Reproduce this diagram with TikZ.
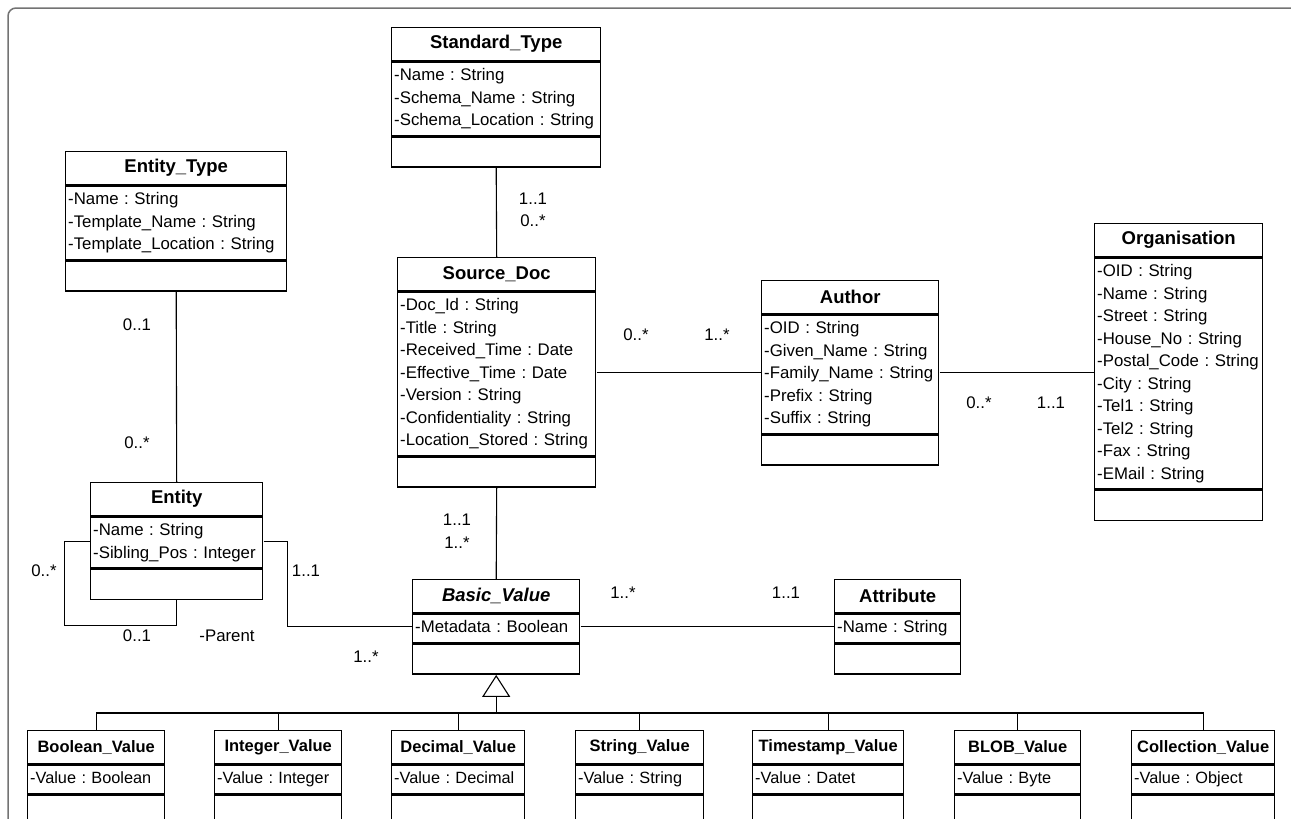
\documentclass[tikz,border=0pt]{standalone}
\usepackage{fontspec}
\setmainfont{Liberation Sans}
\usetikzlibrary{arrows.meta, fit}

\tikzset{
	cls/.style={draw, line width=1.4pt, inner sep=0pt},
	clstitle/.style={cls, minimum height=33pt, font=\fontsize{18.5}{22}\selectfont\bfseries},
	clsattr/.style={cls, align=left, inner xsep=2.5pt, font=\fontsize{16.8}{22.5}\selectfont,
		execute at begin node=\strut, execute at end node=\strut},
	clsops/.style={cls, minimum height=30pt},
	subcls/.style={clstitle/.append style={font=\fontsize{16.5}{20}\selectfont\bfseries},
		clsattr/.append style={font=\fontsize{16.3}{22.5}\selectfont}},
	assoc/.style={line width=1.1pt},
	inherit/.style={line width=1.1pt, -{Triangle[open, length=22pt, width=28pt]}},
	mult/.style={inner sep=1pt, font=\fontsize{16.8}{20}\selectfont},
	frame/.style={draw=black!55, line width=1.5pt, rounded corners=8pt}
}

% name, top left, width, title, attributes, rows
\newcommand{\umlclass}[7][]{%
	\pgfmathsetmacro\clsw{#4-5}
	\begin{scope}[#1]
		\node[clstitle, minimum width=#4, anchor=north west] (#2-t) at (#3) {#5};
		\node[clsattr, text width=\clsw pt, minimum height=22.5*#7+6, anchor=north west] (#2-a) at (#2-t.south west) {#6};
		\node[clsops, minimum width=#4, anchor=north west] (#2-o) at (#2-a.south west) {};
		\node[fit=(#2-t)(#2-o), inner sep=0pt] (#2) {};
	\end{scope}
}

\begin{document}
\frenchspacing
\begin{tikzpicture}[x=1pt, y=-1pt]
	\useasboundingbox (0,0) rectangle (1291,819);
	\draw[frame] (8,840) -- (8,8) -- (1310,8);

	\umlclass{std}{391,27}{209}{Standard\_Type}{-Name : String\\-Schema\_Name : String\\-Schema\_Location : String}{3}
	\umlclass{etype}{65,151}{221}{Entity\_Type}{-Name : String\\-Template\_Name : String\\-Template\_Location : String}{3}
	\umlclass{src}{397,257}{198}{Source\_Doc}{-Doc\_Id : String\\-Title : String\\-Received\_Time : Date\\-Effective\_Time : Date\\-Version : String\\-Confidentiality : String\\-Location\_Stored : String}{7}
	\umlclass{author}{761,280}{177}{Author}{-OID : String\\-Given\_Name : String\\-Family\_Name : String\\-Prefix : String\\-Suffix : String}{5}
	\umlclass{org}{1094,223}{168}{Organisation}{-OID : String\\-Name : String\\-Street : String\\-House\_No : String\\-Postal\_Code : String\\-City : String\\-Tel1 : String\\-Tel2 : String\\-Fax : String\\-EMail : String}{10}
	\umlclass{ent}{90,482}{172}{Entity}{-Name : String\\-Sibling\_Pos : Integer}{2}
	\umlclass{basic}{412,579}{167}{\textit{Basic\_Value}}{-Metadata : Boolean}{1}
	\umlclass{attr}{834,579}{126}{Attribute}{-Name : String}{1}

	\umlclass[subcls]{bool}{27,730}{137}{Boolean\_Value}{-Value : Boolean}{1}
	\umlclass[subcls]{int}{214,730}{127}{Integer\_Value}{-Value : Integer}{1}
	\umlclass[subcls]{dec}{391,730}{133}{Decimal\_Value}{-Value : Decimal}{1}
	\umlclass[subcls]{strv}{575,730}{128}{String\_Value}{-Value : String}{1}
	\umlclass[subcls]{time}{752,730}{151}{Timestamp\_Value}{-Value : Datet}{1}
	\umlclass[subcls]{blob}{954,730}{126}{BLOB\_Value}{-Value : Byte}{1}
	\umlclass[subcls]{coll}{1131,730}{143}{Collection\_Value}{-Value : Object}{1}

	\draw[assoc] (std.south) -- (src.north);
	\draw[assoc] (etype.south) -- (ent.north);
	\draw[assoc] (src.south) -- (basic.north);
	\draw[assoc] (src.east) -- (src.east -| author.west);
	\draw[assoc] (author.east) -- (author.east -| org.west);
	\draw[assoc] (ent.west) -- ++(-25,0) |- ([yshift=-25pt]ent.south) -- (ent.south);
	\draw[assoc] (ent.east) -- ++(24,0) |- (basic.west);
	\draw[assoc] (basic.east) -- (attr.west);

	\coordinate (bus) at (basic.south |- 0,713);
	\draw[inherit] (bus) -- (basic.south);
	\draw[assoc] (bool.north) -- (bool.north |- bus) -- (coll.north |- bus) -- (coll.north);
	\foreach \c in {int,dec,strv,time,blob}
		\draw[assoc] (\c.north) -- (\c.north |- bus);

	\node[mult] (m1) at (533,199) {1..1};
	\node[mult] (m2) at (533,221) {0..*};
	\node[mult] (m3) at (137,325) {0..1};
	\node[mult] (m4) at (137,443) {0..*};
	\node[mult] (m5) at (44,571) {0..*};
	\node[mult] (m6) at (137,636) {0..1};
	\node[mult] (parent) at (227,636) {-Parent};
	\node[mult] (m7) at (306,571) {1..1};
	\node[mult] (m8) at (366,657) {1..*};
	\node[mult] (m9) at (457,520) {1..1};
	\node[mult] (m10) at (457,543) {1..*};
	\node[mult] (m11) at (623,593) {1..*};
	\node[mult] (m12) at (786,593) {1..1};
	\node[mult] (m13) at (636,335) {0..*};
	\node[mult] (m14) at (717,335) {1..*};
	\node[mult] (m15) at (979,403) {0..*};
	\node[mult] (m16) at (1051,403) {1..1};
\end{tikzpicture}
\end{document}
